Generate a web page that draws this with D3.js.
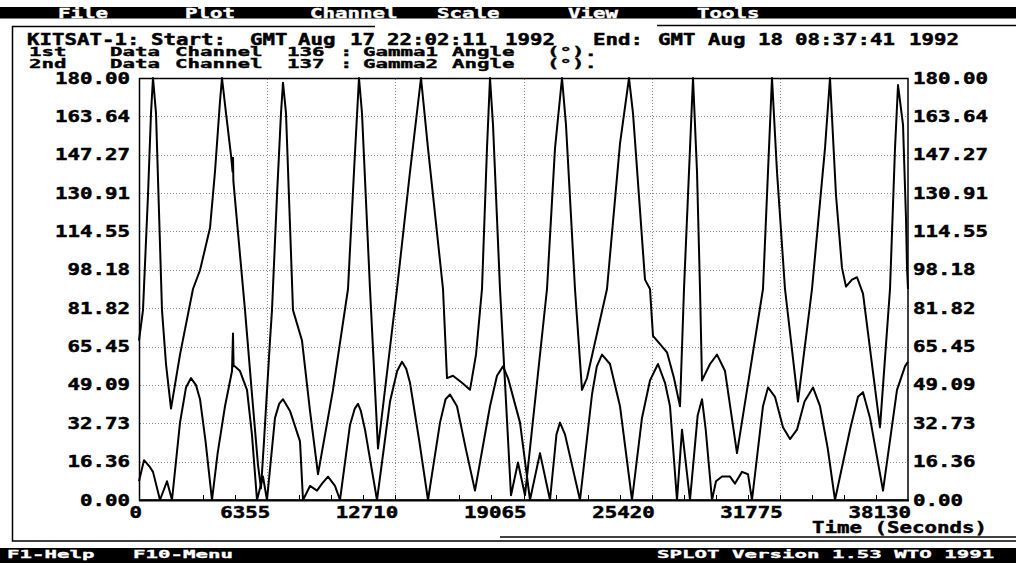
<!DOCTYPE html>
<html>
<head>
<meta charset="utf-8">
<script src="https://cdn.jsdelivr.net/npm/d3@7"></script>
<style>
body { margin: 0; background: #fff; }
svg text { font-family: "DejaVu Sans Mono", "Liberation Mono", monospace; font-weight: bold; }
</style>
</head>
<body>
<svg id="chart" width="1016" height="563"></svg>
<script>
// axis values
var xTicks = [0, 6355, 12710, 19065, 25420, 31775, 38130];
var yTickLabels = ["0.00", "16.36", "32.73", "49.09", "65.45", "81.82", "98.18",
                   "114.55", "130.91", "147.27", "163.64", "180.00"];
var menuItems = [["File", 58], ["Plot", 185], ["Channel", 310], ["Scale", 437], ["View", 568], ["Tools", 697]];

// [time (s), angle (deg)]
var gamma1 = [[0,68],[198,81],[446,130],[595,165],[694,180],[843,165],[1140,81],[1339,58],[1587,39],
  [2033,62],[2677,90],[3025,98],[3520,116],[3768,140],[4016,170],[4115,180],[4314,165],[4562,147],
  [4640,140],[4661,146],[4680,136],[4909,114],[5256,81],[5603,45],[5900,15],[6049,5],[6198,25],
  [6495,68],[6594,81],[6843,130],[7041,165],[7140,178],[7289,165],[7636,81],[8082,68],[8479,38],
  [8875,11],[9619,47],[10363,90],[10660,140],[10908,180],[11057,165],[11454,90],[11850,22],
  [12792,90],[13437,140],[13983,180],[14330,150],[15074,90],[15272,52],[15569,53],[16015,50],
  [16412,47],[16710,62],[17007,90],[17255,150],[17404,180],[17553,160],[17900,90],[18445,2],
  [18792,16],[19139,2],[20230,90],[20627,150],[20974,180],[21172,160],[21618,90],[21965,47],
  [22213,52],[23205,90],[23850,152],[24296,180],[24494,165],[25089,94],[25337,90],[25486,70],
  [26180,63],[26527,52],[26825,40],[27023,90],[27321,150],[27470,180],[27668,140],[27817,90],
  [27916,51],[28313,58],[28660,62],[29057,55],[29651,20],[30296,55],[30940,90],[31188,140],
  [31386,180],[31634,140],[32031,90],[32675,42],[33370,90],[34014,150],[34262,180],[34560,130],
  [34857,99],[35056,91],[35353,94],[35601,95],[35899,88],[36742,31],[37238,90],[37486,150],
  [37635,177],[37883,160],[38031,120],[38081,99],[38130,90]];

var gamma2 = [[0,8],[248,17],[545,14],[694,12],[1041,0],[1388,8],[1636,0],[2033,33],[2330,48],
  [2578,52],[2826,49],[3025,43],[3300,25],[3619,0],[3900,20],[4264,40],[4612,55],[4661,71],[4690,57],
  [4760,57],[5008,55],[5355,47],[5600,28],[5851,0],[6148,10],[6346,0],[6743,35],[6950,41],[7140,43],
  [7487,38],[7983,25],[8132,0],[8479,6],[8826,4],[9074,7],[9371,10],[9718,6],[9966,0],[10462,32],
  [10700,39],[10859,41],[11000,38],[11206,30],[11801,0],[12446,42],[12800,55],[13041,59],[13250,56],
  [13437,50],[13900,25],[14330,0],[14925,33],[15200,43],[15420,45],[15767,40],[16200,22],[16660,4],
  [17404,40],[17750,53],[18048,57],[18297,52],[18892,33],[19387,0],[19883,20],[20379,0],[20700,28],
  [20875,33],[21122,28],[21866,0],[22461,45],[22700,57],[22957,62],[23354,58],[23850,40],[24445,0],
  [24940,35],[25337,51],[25734,58],[26081,50],[26329,40],[26676,0],[26924,30],[27321,0],[27700,36],
  [27916,43],[28100,30],[28412,0],[28610,8],[28908,10],[29305,10],[29552,7],[29899,12],[30196,11],
  [30395,0],[30940,40],[31188,48],[31535,44],[31931,31],[32279,26],[32626,30],[33000,42],[33419,48],
  [33767,40],[34150,22],[34510,0],[35254,30],[35650,44],[35899,46],[36246,35],[36891,4],[37585,47],
  [37982,57],[38130,59]];

var svg = d3.select("#chart");
var sx = 1.384;

function label(g, x, y, s, opt) {
  opt = opt || {};
  var col = opt.fill || "#000";
  return g.append("text")
    .attr("transform", "translate(" + x + "," + y + ") scale(" + sx + "," + (opt.sy || 1) + ")")
    .attr("text-anchor", opt.anchor || "start")
    .attr("font-size", opt.size || 15)
    .attr("fill", col).attr("stroke", col).attr("stroke-width", 0.45)
    .text(s);
}

// menu bar and status bar
svg.append("rect").attr("x", 0).attr("y", 7).attr("width", 1016).attr("height", 11.5).attr("fill", "#000");
menuItems.forEach(function (m) { label(svg, m[1], 18, m[0], {fill: "#fff", sy: 0.9}); });
svg.append("rect").attr("x", 0).attr("y", 548).attr("width", 1016).attr("height", 15).attr("fill", "#000");
label(svg, 7, 557.5, "F1-Help", {fill: "#fff", sy: 0.75});
label(svg, 133, 557.5, "F10-Menu", {fill: "#fff", sy: 0.75});
label(svg, 657, 557.5, "SPLOT Version 1.53 WTO 1991", {fill: "#fff", sy: 0.75});

// window frame
var frame = svg.append("g").attr("stroke", "#000").attr("stroke-width", 1.5).attr("fill", "none");
frame.append("path").attr("d", "M375,26.5H12.5V541H1016");
frame.append("path").attr("d", "M657,25.5H1016");
frame.append("path").attr("d", "M500,537H1016");

// header
[[27,"KITSAT-1:"],[151,"Start:"],[250,"GMT"],[298,"Aug"],[350,"17"],[387,"22:02:11"],[505,"1992"],
 [593,"End:"],[658,"GMT"],[708,"Aug"],[758,"18"],[795,"08:37:41"],[909,"1992"]]
  .forEach(function (d) { label(svg, d[0], 45, d[1]); });
[[56, "1st", "136", "Gamma1"], [67.5, "2nd", "137", "Gamma2"]].forEach(function (r) {
  [[29, r[1]], [110, "Data"], [175, "Channel"], [287, r[2]], [340, ":"], [363, r[3]], [452, "Angle"], [547, "(°)."]]
    .forEach(function (d) { label(svg, d[0], r[0], d[1], {sy: 0.8}); });
});

// scales
var x = d3.scaleLinear().domain([0, 38130]).range([139, 908]);
var y = d3.scaleLinear().domain([0, 180]).range([500, 78]);
var yTicks = yTickLabels.map(function (d, i) { return i * 180 / 11; });

// grid
var grid = svg.append("g").attr("stroke", "#8a8a8a").attr("stroke-width", 1).attr("stroke-dasharray", "1,2");
grid.selectAll(".h").data(yTicks.slice(1, 11)).enter().append("line")
  .attr("x1", 140).attr("x2", 907).attr("y1", function (d) { return Math.round(y(d)) + 0.5; })
  .attr("y2", function (d) { return Math.round(y(d)) + 0.5; });
grid.selectAll(".v").data(xTicks.slice(1, 6)).enter().append("line")
  .attr("y1", 79).attr("y2", 499).attr("x1", function (d) { return Math.round(x(d)) + 0.5; })
  .attr("x2", function (d) { return Math.round(x(d)) + 0.5; });

// minor ticks on the time axis
var minor = d3.range(0, 38130, 6355 / 4);
svg.append("g").selectAll("line").data(minor).enter().append("line")
  .attr("x1", function (d) { return Math.round(x(d)) + 0.5; }).attr("x2", function (d) { return Math.round(x(d)) + 0.5; })
  .attr("y1", 500).attr("y2", 495).attr("stroke", "#000").attr("stroke-width", 1);

// plot box
svg.append("rect").attr("x", 139.5).attr("y", 78.5).attr("width", 768.5).attr("height", 421.5)
  .attr("fill", "none").attr("stroke", "#000").attr("stroke-width", 1.5);
svg.append("line").attr("x1", 139).attr("x2", 909).attr("y1", 500.5).attr("y2", 500.5)
  .attr("stroke", "#000").attr("stroke-width", 2);

// tick labels
yTicks.forEach(function (d, i) {
  label(svg, 130, y(d) + 5.5, yTickLabels[i], {anchor: "end"});
  label(svg, 913, y(d) + 5.5, yTickLabels[i]);
});
xTicks.forEach(function (d) { label(svg, x(d) + 3, 518, String(d), {anchor: "end"}); });
label(svg, 812, 532.5, "Time (Seconds)");

// data lines
var line = d3.line().x(function (d) { return x(d[0]); }).y(function (d) { return y(d[1]); });
[gamma1, gamma2].forEach(function (s) {
  svg.append("path").datum(s).attr("d", line)
    .attr("fill", "none").attr("stroke", "#000").attr("stroke-width", 2).attr("stroke-linejoin", "round");
});
</script>
</body>
</html>
